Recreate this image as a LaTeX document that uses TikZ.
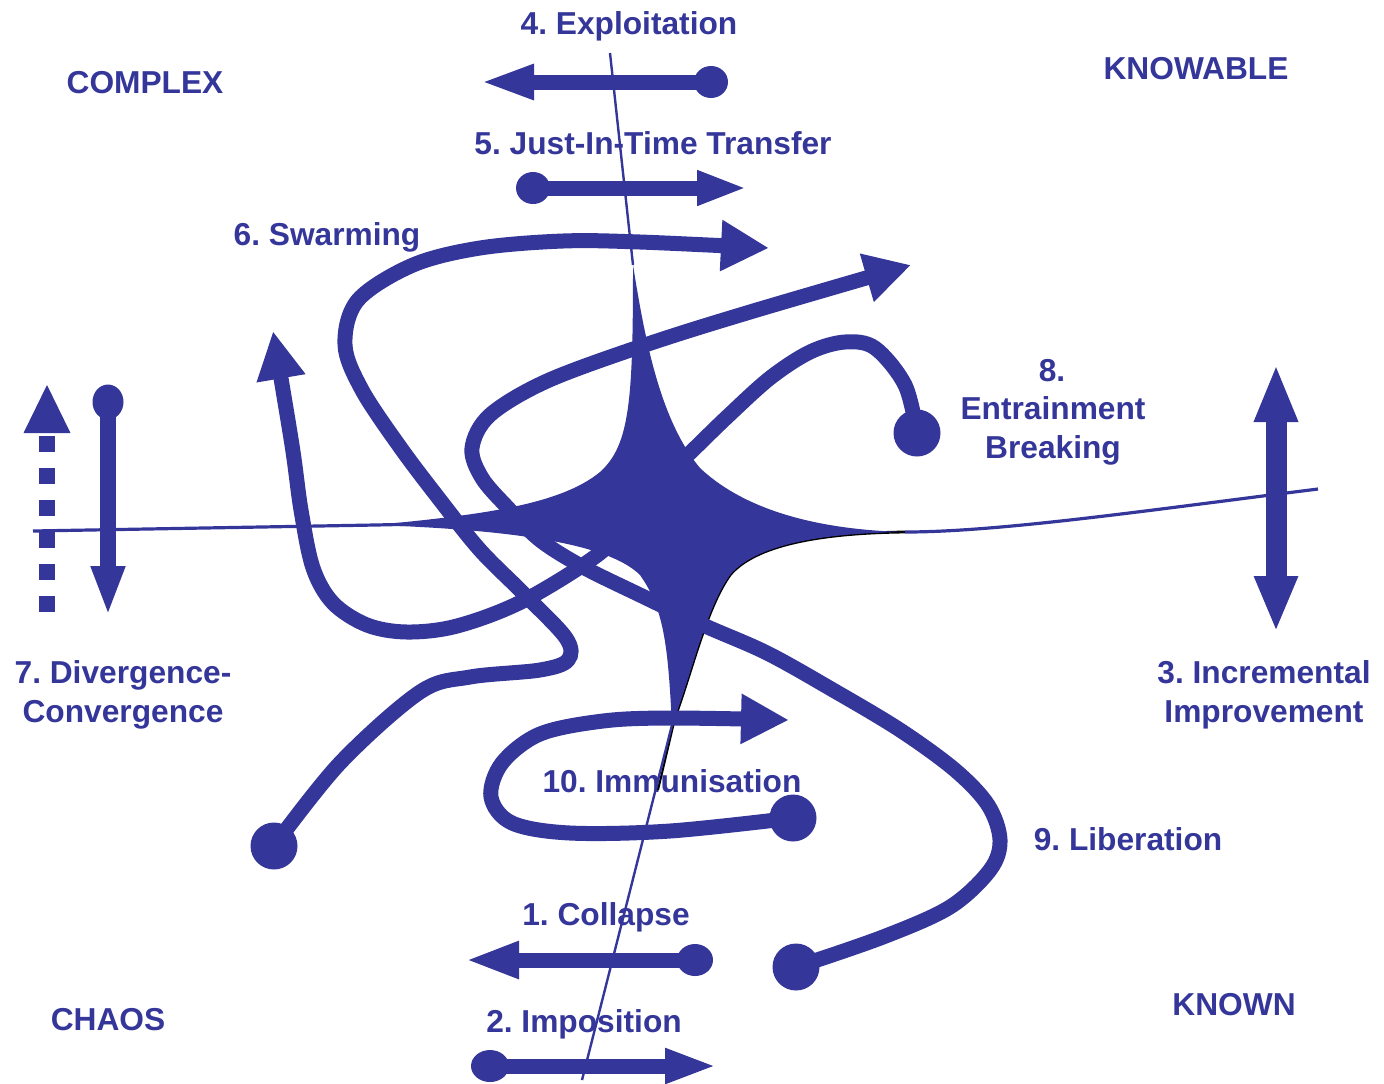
\documentclass[tikz,border=0pt]{standalone}
\usepackage{fontspec}
\setmainfont{Liberation Sans}
\usetikzlibrary{arrows.meta}
\definecolor{cyn}{RGB}{52,54,153}
\frenchspacing
\begin{document}
\begin{tikzpicture}[x=0.5pt,y=-0.5pt,
  lbl/.style={text=cyn, font=\fontsize{15.85pt}{19pt}\selectfont\bfseries, anchor=base, inner sep=0pt},
  band/.style={draw=cyn, line width=7.5pt},
  hairv/.style={draw=cyn, line width=1.2pt},
  hairh/.style={draw=cyn, line width=1.6pt},
  ballfill/.style={fill=cyn}]
\useasboundingbox (0,0) rectangle (1384,1083);

% ---------- labels ----------
\node[lbl] (t4) at (629,34) {4. Exploitation};
\node[lbl] (tcx) at (145,93) {COMPLEX};
\node[lbl] (tkb) at (1196,79) {KNOWABLE};
\node[lbl] (t5) at (653,154) {5. Just-In-Time Transfer};
\node[lbl] (t6) at (327,245) {6. Swarming};
\node[lbl] (t8a) at (1052,381) {8.};
\node[lbl] (t8b) at (1053,419) {Entrainment};
\node[lbl] (t8c) at (1053,458) {Breaking};
\node[lbl] (t7a) at (123,683) {7. Divergence-};
\node[lbl] (t7b) at (123,722) {Convergence};
\node[lbl] (t3a) at (1264,683) {3. Incremental};
\node[lbl] (t3b) at (1264,722) {Improvement};
\node[lbl] (t10) at (672,792) {10. Immunisation};
\node[lbl] (t9) at (1128,850) {9. Liberation};
\node[lbl] (t1) at (606,925) {1. Collapse};
\node[lbl] (tch) at (108,1030) {CHAOS};
\node[lbl] (t2) at (584,1032) {2. Imposition};
\node[lbl] (tkn) at (1234,1015) {KNOWN};

% ---------- central star (disorder) ----------
\coordinate (T) at (633,265);
\coordinate (R) at (905,532);
\coordinate (B) at (672,725);
\coordinate (L) at (375,525);
\draw[black, line width=1.4pt] (R) .. controls (820,533) and (755,545) .. (730,575)
   .. controls (705,610) and (690,680) .. (B);
\draw[black, line width=1pt] ([xshift=0.7pt]B) -- (658,790);
\fill[cyn] (T) .. controls (645,340) and (660,420) .. (700,468)
   .. controls (750,515) and (830,530) .. (R)
   .. controls (820,533) and (755,545) .. (730,575)
   .. controls (705,610) and (690,680) .. (B)
   .. controls (668,650) and (665,610) .. (640,575)
   .. controls (610,545) and (520,530) .. (L)
   .. controls (480,515) and (560,505) .. (600,472)
   .. controls (630,445) and (633,400) .. cycle;

% ---------- boundary lines ----------
\coordinate (vtop) at (610,53);
\coordinate (vbot) at (582,1080);
\coordinate (hleft) at (33,531);
\coordinate (hright) at (1318,489);
\coordinate (hin) at (470,523);
\draw[hairv] (vtop) -- (T);
\draw[hairv] (B) -- (vbot);
\draw[hairh] (hleft) -- (L) -- (hin);
\draw[hairh] (R) .. controls (1000,532) and (1150,510) .. (hright);

% ---------- straight arrows ----------
\coordinate (a4s) at (711,82);  \coordinate (a4e) at (480,82);
\fill[cyn] (a4s) ellipse [x radius=8.5pt, y radius=8pt];
\draw[band, -{Triangle[length=27pt,width=16pt]}] (a4s) -- (a4e);

\coordinate (a5s) at (533,188); \coordinate (a5e) at (747,188);
\fill[cyn] (a5s) ellipse [x radius=8.5pt, y radius=8pt];
\draw[band, -{Triangle[length=25pt,width=16pt]}] (a5s) -- (a5e);

\coordinate (a1s) at (695,960); \coordinate (a1e) at (465,960);
\fill[cyn] (a1s) ellipse [x radius=9pt, y radius=8pt];
\draw[band, -{Triangle[length=27pt,width=17pt]}] (a1s) -- (a1e);

\coordinate (a2s) at (490,1066); \coordinate (a2e) at (717,1066);
\fill[cyn] (a2s) ellipse [x radius=9.5pt, y radius=8pt];
\draw[band, -{Triangle[length=26pt,width=16pt]}] (a2s) -- (a2e);

% ---------- 7. divergence / convergence ----------
\coordinate (a7s) at (108,402); \coordinate (a7e) at (108,616);
\fill[cyn] (a7s) ellipse [x radius=7.75pt, y radius=8.75pt];
\draw[cyn, line width=8pt, -{Triangle[length=25pt,width=15.5pt]}] (a7s) -- (a7e);
\coordinate (d7s) at (47,612); \coordinate (d7e) at (47,436);
\draw[cyn, line width=8pt, dash pattern=on 8pt off 8pt] (d7s) -- (d7e);
\fill[cyn] (47,385) -- (70.5,433) -- (23.5,433) -- cycle;

% ---------- 3. incremental improvement ----------
\coordinate (a3s) at (1276,364); \coordinate (a3e) at (1276,632);
\draw[cyn, line width=10.5pt, {Triangle[length=29pt,width=20pt]}-{Triangle[length=28pt,width=20pt]}] (a3s) -- (a3e);

% ---------- 6. swarming ----------
\coordinate (s6) at (274,846);
\fill[cyn] (s6) circle (11.75pt);
\draw[band, -{Triangle[length=24pt,width=24pt]}] plot[smooth, tension=0.55] coordinates {
 (274,846) (340,763) (420,692) (470,677) (540,670) (568,660) (566,638) (523,593)
 (480,550) (440,500) (400,447) (362,390) (345,345) (358,300) (413,265) (480,248)
 (563,241) (640,242) (769,248)};

% ---------- 9. liberation ----------
\coordinate (s9) at (796,967);
\fill[cyn] (s9) circle (11.75pt);
\draw[band, -{Triangle[length=23pt,width=23.5pt]}] plot[smooth, tension=0.55] coordinates {
 (796,967) (883,937) (950,907) (990,870) (1000,840) (988,805) (955,770) (900,730)
 (833,690) (767,653) (703,625) (640,595) (583,567) (540,540) (508,508) (482,478)
 (472,448) (490,415) (547,381) (645,345) (750,312) (911,265)};

% ---------- 10. immunisation ----------
\coordinate (s10) at (793,818);
\fill[cyn] (s10) circle (11.75pt);
\draw[band, -{Triangle[length=24pt,width=23.5pt]}] plot[smooth, tension=0.55] coordinates {
 (793,818) (670,831) (570,833) (512,823) (491,797) (502,763) (540,734) (603,721)
 (670,718) (789,720)};

% ---------- 8. entrainment breaking ----------
\coordinate (s8) at (917,433);
\fill[cyn] (s8) circle (11.75pt);
\draw[band, -{Triangle[length=24pt,width=23pt]}] plot[smooth, tension=0.55] coordinates {
 (917,433) (905,385) (875,348) (845,342) (810,352) (770,378) (727,417) (693,450)
 (660,482) (630,517) (600,553) (523,601) (457,626) (407,632) (367,625) (333,603)
 (313,568) (301,510) (292,445) (273,331)};
\end{tikzpicture}
\end{document}
